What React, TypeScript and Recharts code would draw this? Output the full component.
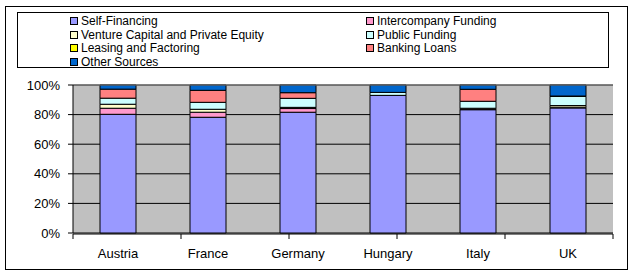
import React from 'react';
import { BarChart, Bar, XAxis, YAxis, CartesianGrid, ReferenceLine } from 'recharts';

const countries = ['Austria', 'France', 'Germany', 'Hungary', 'Italy', 'UK'];

const selfFinancing = [80.2, 78.2, 81.6, 93.0, 83.3, 84.0];
const intercompany = [4.1, 3.4, 2.5, 0, 0.5, 0.5];
const ventureCapital = [2.7, 2.0, 0.8, 0, 0.5, 1.1];
const publicFunding = [4.1, 4.7, 6.1, 2.0, 4.7, 6.1];
const leasing = [0, 0, 0, 0, 0, 0.3];
const bankingLoans = [6.1, 8.1, 3.8, 0, 8.1, 0];
const otherSources = [2.8, 3.6, 5.2, 5.0, 2.9, 7.4];

const seriesNames = [
  'Self-Financing',
  'Intercompany Funding',
  'Venture Capital and Private Equity',
  'Public Funding',
  'Leasing and Factoring',
  'Banking Loans',
  'Other Sources',
];
const seriesKeys = ['self', 'inter', 'venture', 'public', 'leasing', 'banking', 'other'];
const seriesColors = ['#9999FF', '#FF99CC', '#FFFFCC', '#CCFFFF', '#FFFF00', '#FF8080', '#0066CC'];
const seriesValues = [selfFinancing, intercompany, ventureCapital, publicFunding, leasing, bankingLoans, otherSources];

const yTicks = [0, 0.2, 0.4, 0.6, 0.8, 1];
const boundaryTicks = [0, 1, 2, 3, 4, 5, 6];

const data = countries.map((name, i) => {
  const row: Record<string, number | string> = { name };
  seriesKeys.forEach((k, s) => {
    row[k] = seriesValues[s][i];
  });
  return row;
});

const font = 'Arial, "Liberation Sans", sans-serif';

export default function App() {
  return (
    <div style={{ position: 'absolute', left: 0, top: 0, width: 631, height: 272, background: '#fff', fontFamily: font }}>
      <div style={{ position: 'absolute', left: 5, top: 6, width: 621, height: 262, border: '1px solid #000' }} />
      <div
        style={{
          position: 'absolute',
          left: 17,
          top: 12,
          width: 590,
          height: 54,
          border: '1px solid #000',
          background: '#fff',
          fontSize: 12,
          color: '#000',
        }}
      >
        {seriesNames.map((n, i) => (
          <div
            key={n}
            style={{
              position: 'absolute',
              left: i % 2 === 0 ? 52 : 348,
              top: 1 + Math.floor(i / 2) * 13.5,
              height: 14,
              lineHeight: '14px',
              whiteSpace: 'nowrap',
              display: 'flex',
              alignItems: 'center',
            }}
          >
            <span
              style={{
                display: 'inline-block',
                width: 6,
                height: 6,
                border: '1px solid #000',
                background: seriesColors[i],
                marginRight: 3,
              }}
            />
            {n}
          </div>
        ))}
      </div>
      <BarChart
        width={631}
        height={272}
        data={data}
        stackOffset="expand"
        barCategoryGap="30%"
        margin={{ top: 85, right: 18, bottom: 32, left: 0 }}
        style={{ position: 'absolute', left: 0, top: 0 }}
      >
        <CartesianGrid vertical={false} horizontal stroke="#000" fill="#C0C0C0" fillOpacity={1} />
        <XAxis
          dataKey="name"
          axisLine={false}
          tickLine={false}
          height={1}
          tickMargin={10}
          tick={{ fontSize: 13, fill: '#000', fontFamily: font }}
        />
        <XAxis
          xAxisId="t"
          type="number"
          domain={[0, 6]}
          ticks={boundaryTicks}
          tickFormatter={() => ''}
          tickSize={5}
          stroke="#000"
          axisLine={{ stroke: '#000' }}
          tickLine={{ stroke: '#000' }}
          height={6}
        />
        <YAxis
          domain={[0, 1]}
          ticks={yTicks}
          tickFormatter={(v: number) => `${Math.round(v * 100)}%`}
          width={73}
          tickSize={5}
          tickMargin={8}
          axisLine={{ stroke: '#000' }}
          tickLine={{ stroke: '#000' }}
          tick={{ fontSize: 13, fill: '#000', fontFamily: font }}
        />
        {seriesKeys.map((k, i) => (
          <Bar key={k} dataKey={k} stackId="a" fill={seriesColors[i]} stroke="#000" strokeWidth={1} isAnimationActive={false} />
        ))}
        <ReferenceLine y={1} stroke="#808080" />
        <ReferenceLine xAxisId="t" x={6} stroke="#808080" />
      </BarChart>
    </div>
  );
}
